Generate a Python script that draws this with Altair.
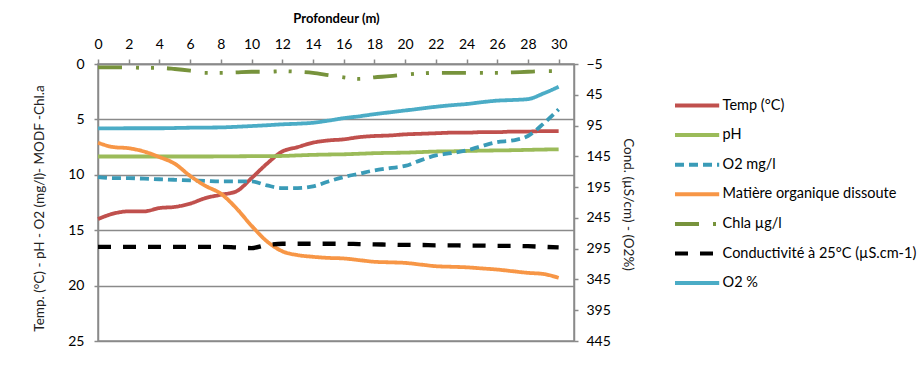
import altair as alt
import pandas as pd

# Depth profile (m)
depth = list(range(31))

# Left-axis series
temp_c = [14.0, 13.5, 13.3, 13.3, 13.0, 12.9, 12.6, 12.1, 11.8, 11.5, 10.3,
          9.0, 7.9, 7.5, 7.1, 6.9, 6.8, 6.6, 6.5, 6.45, 6.35,
          6.3, 6.25, 6.2, 6.2, 6.15, 6.15, 6.1, 6.1, 6.05, 6.05]
ph = [8.35, 8.35, 8.35, 8.35, 8.35, 8.35, 8.35, 8.35, 8.34, 8.33, 8.32,
      8.31, 8.3, 8.25, 8.2, 8.17, 8.15, 8.1, 8.05, 8.02, 8.0,
      7.95, 7.9, 7.88, 7.85, 7.82, 7.8, 7.78, 7.75, 7.72, 7.7]
o2_mg = [10.2, 10.3, 10.3, 10.35, 10.4, 10.45, 10.5, 10.55, 10.6, 10.6, 10.6,
         10.95, 11.2, 11.2, 11.05, 10.6, 10.2, 9.9, 9.6, 9.4, 9.2,
         8.7, 8.25, 8.05, 7.8, 7.4, 7.05, 6.9, 6.5, 5.4, 4.1]
mo_dissoute = [7.1, 7.5, 7.6, 7.9, 8.4, 9.0, 10.1, 11.0, 11.7, 13.0, 14.6,
               16.0, 16.9, 17.25, 17.4, 17.5, 17.55, 17.7, 17.85, 17.9, 17.95,
               18.1, 18.25, 18.3, 18.35, 18.45, 18.55, 18.7, 18.85, 18.95, 19.3]
chla = [0.3, 0.3, 0.3, 0.35, 0.35, 0.45, 0.6, 0.8, 0.8, 0.75, 0.7,
        0.7, 0.65, 0.7, 0.8, 1.0, 1.2, 1.35, 1.2, 1.1, 0.95,
        0.85, 0.8, 0.8, 0.8, 0.8, 0.8, 0.75, 0.7, 0.65, 0.65]

# Right-axis series
conductivite = [292, 292, 292, 292, 292, 292, 292, 292, 292, 293, 294,
                289, 287, 287, 287, 287, 287, 287.5, 288, 288.5, 289,
                289, 289.5, 289.5, 290, 290, 290.5, 290.5, 291, 292, 293]
o2_pct = [99.6, 99.5, 99.4, 99.4, 99.4, 99.0, 98.5, 98.3, 98.0, 97.0, 95.8,
          94.5, 93.0, 92.0, 90.5, 87.0, 83.0, 80.0, 76.5, 73.5, 70.5,
          67.5, 64.5, 62.0, 60.0, 57.0, 54.5, 53.5, 52.0, 43.0, 32.0]

series_names = ["Temp (°C)", "pH", "O2  mg/l", "Matière organique dissoute",
                "Chla µg/l", "Conductivité à 25°C (µS.cm-1)", "O2 %"]
series_colors = ["#C0504D", "#9BBB59", "#3A9BB7", "#F79646",
                 "#77933C", "#000000", "#4BACC6"]
series_dashes = [[1, 0], [1, 0], [9, 5], [1, 0],
                 [24, 14, 3, 12, 3, 13], [13, 12], [1, 0]]
series_widths = [3.8, 3.8, 3.8, 3.8, 3.8, 4.3, 3.8]

left_values = [temp_c, ph, o2_mg, mo_dissoute, chla]
right_values = [conductivite, o2_pct]

rows = []
for name, vals in zip(series_names, left_values + right_values):
    for d, v in zip(depth, vals):
        rows.append({"series": name, "depth": d, "value": v})
df = pd.DataFrame(rows)

FONT = "Lato"
AXIS_GRAY = "#8A8A8A"

x_enc = alt.X(
    "depth:Q",
    scale=alt.Scale(domain=[0, 31], nice=False, zero=False),
    axis=alt.Axis(orient="top", values=list(range(0, 31, 2)), title="Profondeur (m)",
                  titleFontWeight="bold", titleFontSize=13, titleFont=FONT, titleColor="#000",
                  titleY=-46, titleBaseline="middle",
                  labelFont=FONT, labelFontSize=14, labelColor="#000", labelPadding=8,
                  tickSize=5, tickColor=AXIS_GRAY, tickWidth=1.5,
                  domainColor=AXIS_GRAY, domainWidth=1.5, grid=False, labelFlush=False),
)

y_left = alt.Y(
    "value:Q",
    scale=alt.Scale(domain=[0, 25], reverse=True, nice=False, zero=False),
    axis=alt.Axis(orient="left", values=[0, 5, 10, 15, 20, 25],
                  title="Temp. (°C) - pH - O2 (mg/l)- MODF -Chl.a",
                  titleFont=FONT, titleFontSize=13.5, titleFontWeight="normal", titleColor="#222",
                  titleX=-59, titleY=144, titleBaseline="middle",
                  labelFont=FONT, labelFontSize=14, labelColor="#000", labelPadding=10,
                  tickSize=4, tickColor=AXIS_GRAY, tickWidth=1.5,
                  domainColor=AXIS_GRAY, domainWidth=1.5,
                  grid=True, gridColor=AXIS_GRAY, gridWidth=1.5, labelFlush=False),
)

y_right = alt.Y(
    "value:Q",
    scale=alt.Scale(domain=[-5, 445], reverse=True, nice=False, zero=False),
    axis=alt.Axis(orient="right", values=list(range(-5, 446, 50)),
                  title="Cond. (µS/cm) - (O2%)",
                  titleFont=FONT, titleFontSize=13.5, titleFontWeight="normal", titleColor="#222",
                  titleX=53, titleY=140, titleBaseline="middle",
                  labelFont=FONT, labelFontSize=14, labelColor="#000", labelPadding=8,
                  tickSize=4, tickColor=AXIS_GRAY, tickWidth=1.5,
                  domainColor=AXIS_GRAY, domainWidth=1.5, grid=False, labelFlush=False),
)

color_enc = alt.Color(
    "series:N",
    scale=alt.Scale(domain=series_names, range=series_colors),
    legend=alt.Legend(title=None, orient="none", legendX=577, legendY=31,
                      symbolType="M-2.6,0H2.6", symbolSize=289, symbolStrokeWidth=4,
                      symbolOffset=11.6, labelOffset=15, rowPadding=10.6, padding=0,
                      labelFont=FONT, labelFontSize=14.5, labelColor="#000",
                      labelLimit=300),
)
dash_enc = alt.StrokeDash(
    "series:N",
    scale=alt.Scale(domain=series_names, range=series_dashes),
)


def profile_line(name, width, y_enc):
    return (
        alt.Chart(df)
        .transform_filter(alt.datum.series == name)
        .mark_line(strokeWidth=width, strokeCap="butt", interpolate="monotone")
        .encode(x=x_enc, y=y_enc, color=color_enc, strokeDash=dash_enc,
                order=alt.Order("depth:Q"))
    )


left_layer = alt.layer(*[profile_line(n, w, y_left)
                         for n, w in zip(series_names[:5], series_widths[:5])])
right_layer = alt.layer(*[profile_line(n, w, y_right)
                          for n, w in zip(series_names[5:], series_widths[5:])])

chart = (
    alt.layer(left_layer, right_layer)
    .resolve_scale(y="independent")
    .properties(width=476, height=277, background="white",
                autosize=alt.AutoSizeParams(type="none"),
                padding={"left": 98, "top": 64, "right": 349, "bottom": 33})
    .configure_view(stroke=AXIS_GRAY, strokeWidth=1.5)
)

chart.save("out.html", embed_options={"renderer": "svg", "actions": False})
